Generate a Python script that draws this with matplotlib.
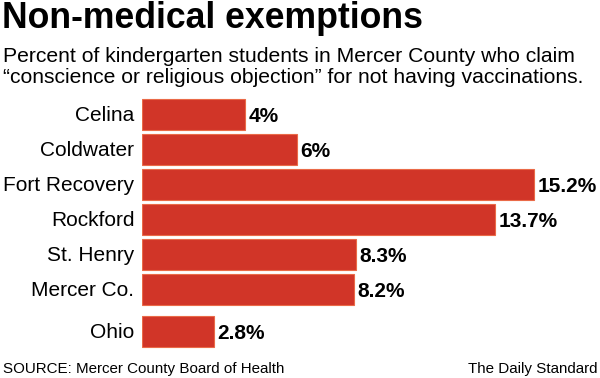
import matplotlib
matplotlib.use("Agg")
import matplotlib.pyplot as plt

labels = ["Celina", "Coldwater", "Fort Recovery", "Rockford", "St. Henry", "Mercer Co.", "Ohio"]
values = [4, 6, 15.2, 13.7, 8.3, 8.2, 2.8]
value_text = ["4%", "6%", "15.2%", "13.7%", "8.3%", "8.2%", "2.8%"]
positions = [0, 1, 2, 3, 4, 5, 6.21]

W, H = 600, 378
bar_color = "#d13528"

plt.rcParams['font.family'] = ['Liberation Sans', 'DejaVu Sans']

fig = plt.figure(figsize=(6, 3.78), dpi=100)

# axes placed in pixel terms: x from 142 to 600, y from 97 to 350
ax = fig.add_axes([142 / W, 1 - 350 / H, (W - 142) / W, (350 - 97) / H])
ax.barh(positions, values, height=0.89, color=bar_color, edgecolor="#ea6a48", linewidth=0.8)
ax.set_xlim(0, (W - 142) / 25.8)
ax.set_ylim(6.21 + 0.52, -0.5)
ax.axis("off")

for p, v, t, lab in zip(positions, values, value_text, labels):
    ax.text(v + 0.13, p + 0.06, t, ha="left", va="center", fontsize=15, fontweight="bold")
    ax.text(-0.3, p + 0.03, lab, ha="right", va="center", fontsize=15)

fig.text(2 / W, 1 - 28.5 / H, "Non-medical exemptions", fontsize=25.7, fontweight="bold",
         ha="left", va="baseline")
fig.text(3 / W, 1 - 62 / H, "Percent of kindergarten students in Mercer County who claim",
         fontsize=15.2, ha="left", va="baseline")
fig.text(3 / W, 1 - 83 / H, "\u201cconscience or religious objection\u201d for not having vaccinations.",
         fontsize=15.2, ha="left", va="baseline")
fig.text(3 / W, 1 - 373 / H, "SOURCE: Mercer County Board of Health", fontsize=10.9, ha="left", va="baseline")
fig.text(598 / W, 1 - 373 / H, "The Daily Standard", fontsize=10.9, ha="right", va="baseline")

fig.savefig("out.png", dpi=100)
